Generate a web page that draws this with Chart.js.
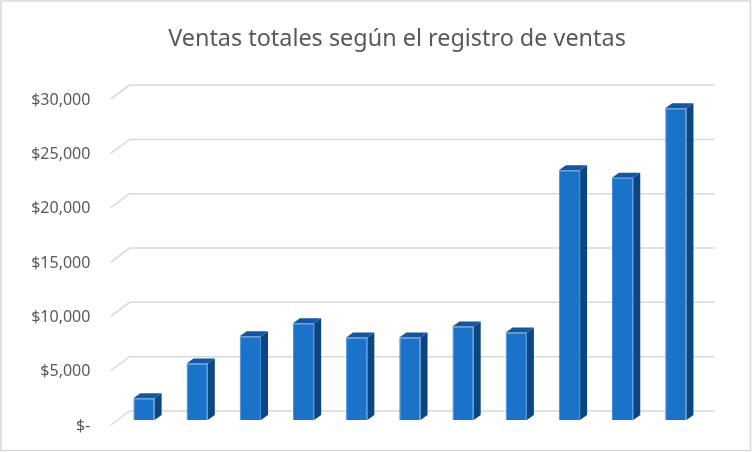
<!DOCTYPE html>
<html>
<head>
<meta charset="utf-8">
<script src="https://cdn.jsdelivr.net/npm/chart.js@4.4.1/dist/chart.umd.min.js"></script>
<style>
  html, body { margin: 0; padding: 0; background: #ffffff; }
  #wrap { width: 752px; height: 452px; }
</style>
</head>
<body>
<div id="wrap"><canvas id="c" width="752" height="452"></canvas></div>
<script>
// ---- data ----
const categories = ['1', '2', '3', '4', '5', '6', '7', '8', '9', '10', '11'];
const ventas = [2000, 5200, 7700, 8900, 7600, 7600, 8600, 8050, 23000, 22300, 28700];
const yTickValues = [0, 5000, 10000, 15000, 20000, 25000, 30000];
const yTickLabels = ['$-', '$5,000', '$10,000', '$15,000', '$20,000', '$25,000', '$30,000'];
const chartTitle = 'Ventas totales según el registro de ventas';

// ---- 3D look parameters ----
const DEPTH_DX = 7, DEPTH_DY = 5;          // bar depth
const BACK_DX = 12.2, BACK_DY = 9;         // back wall offset from bar plane
const FRONT_DX = 6.6, FRONT_DY = 5;        // front floor edge offset from bar plane
const GRID_COLOR = '#d9d9d9';

const framePlugin = {
  id: 'frame',
  beforeDraw(chart) {
    const ctx = chart.ctx;
    ctx.save();
    ctx.fillStyle = '#ffffff';
    ctx.fillRect(0, 0, chart.width, chart.height);
    ctx.strokeStyle = GRID_COLOR;
    ctx.lineWidth = 1.5;
    ctx.strokeRect(1, 1, chart.width - 2.5, chart.height - 2.5);
    ctx.restore();
  }
};

const wallGridPlugin = {
  id: 'wallGrid',
  beforeDatasetsDraw(chart) {
    const ctx = chart.ctx;
    const ys = chart.scales.y;
    const area = chart.chartArea;
    ctx.save();
    ctx.strokeStyle = GRID_COLOR;
    ctx.lineWidth = 1.5;
    ys.ticks.forEach(t => {
      const y = ys.getPixelForValue(t.value);
      ctx.beginPath();
      ctx.moveTo(area.left - FRONT_DX, y + FRONT_DY);
      ctx.lineTo(area.left + BACK_DX, y - BACK_DY);
      ctx.lineTo(area.right + BACK_DX, y - BACK_DY);
      ctx.stroke();
    });
    ctx.restore();
  }
};

const bar3dPlugin = {
  id: 'bar3d',
  afterDatasetsDraw(chart) {
    const ctx = chart.ctx;
    const meta = chart.getDatasetMeta(0);
    ctx.save();
    meta.data.forEach(bar => {
      const p = bar.getProps(['x', 'y', 'base', 'width'], true);
      const l = p.x - p.width / 2, r = p.x + p.width / 2;
      const top = p.y, bot = p.base;
      // side face
      ctx.fillStyle = '#0b4682';
      ctx.beginPath();
      ctx.moveTo(r, top);
      ctx.lineTo(r + DEPTH_DX, top - DEPTH_DY);
      ctx.lineTo(r + DEPTH_DX, bot - DEPTH_DY);
      ctx.lineTo(r, bot);
      ctx.closePath();
      ctx.fill();
      // top face
      ctx.fillStyle = '#1456a0';
      ctx.beginPath();
      ctx.moveTo(l, top);
      ctx.lineTo(l + DEPTH_DX, top - DEPTH_DY);
      ctx.lineTo(r + DEPTH_DX, top - DEPTH_DY);
      ctx.lineTo(r, top);
      ctx.closePath();
      ctx.fill();
    });
    ctx.restore();
  }
};

new Chart(document.getElementById('c'), {
  type: 'bar',
  data: {
    labels: categories,
    datasets: [{
      label: 'Ventas',
      data: ventas,
      backgroundColor: '#1a73c9',
      borderColor: '#3f8cd8',
      borderWidth: 1,
      categoryPercentage: 1.0,
      barPercentage: 0.4
    }]
  },
  options: {
    responsive: false,
    animation: false,
    layout: { padding: { left: 20, right: -22, top: 0, bottom: 32 } },
    plugins: {
      legend: { display: false },
      tooltip: { enabled: false },
      title: {
        display: true,
        text: chartTitle,
        color: '#595959',
        font: { family: '"Noto Sans", sans-serif', size: 23.4, weight: 'normal' },
        padding: { top: 25, bottom: 41 }
      }
    },
    scales: {
      x: { display: false, offset: true, grid: { display: false } },
      y: {
        min: 0, max: 30000,
        afterFit(scale) { scale.width = 97.4; scale.paddingTop = 0; scale.paddingBottom = 0; },
        afterBuildTicks(scale) { scale.ticks = yTickValues.map(v => ({ value: v })); },
        grid: { display: false, drawTicks: false },
        border: { display: false },
        ticks: {
          padding: 27,
          labelOffset: 6,
          color: '#595959',
          font: { family: '"Noto Sans", sans-serif', size: 16 },
          callback: (v) => yTickLabels[yTickValues.indexOf(v)]
        }
      },
      y2: {
        position: 'right',
        display: true,
        afterFit(scale) { scale.width = 71.6; scale.paddingTop = 0; scale.paddingBottom = 0; },
        grid: { display: false, drawTicks: false },
        border: { display: false },
        ticks: { display: false }
      }
    }
  },
  plugins: [framePlugin, wallGridPlugin, bar3dPlugin]
});
</script>
</body>
</html>
